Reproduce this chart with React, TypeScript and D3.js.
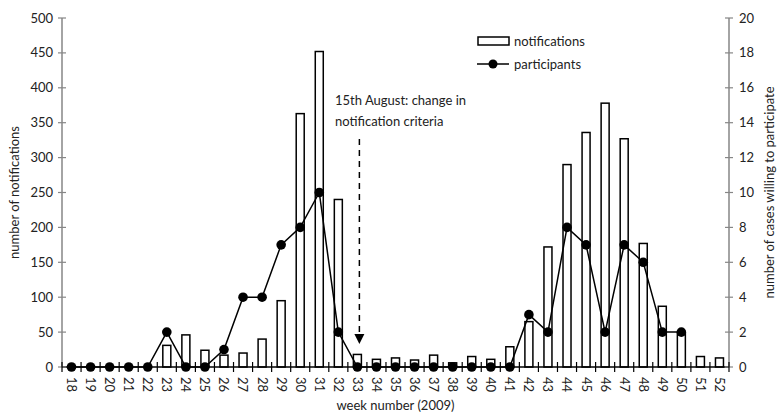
import React from "react";
import * as d3 from "d3";

const weeks = [18,19,20,21,22,23,24,25,26,27,28,29,30,31,32,33,34,35,36,37,38,39,40,41,42,43,44,45,46,47,48,49,50,51,52];
const notifications = [0,0,0,0,0,31,46,24,17,20,40,95,363,452,240,18,11,13,10,17,6,15,11,29,65,172,290,336,378,327,177,87,49,15,13];
const participants: (number | null)[] = [0,0,0,0,0,2,0,0,1,4,4,7,8,10,2,0,0,0,0,0,0,0,0,0,3,2,8,7,2,7,6,2,2,null,null];
const leftTicks = [0,50,100,150,200,250,300,350,400,450,500];
const rightTicks = [0,2,4,6,8,10,12,14,16,18,20];

export default function App() {
  const W = 779, H = 415;
  const x0 = 62, x1 = 729, yTop = 18, yBot = 367;
  const font = "Lato, 'Open Sans', sans-serif";
  const axisColor = "#868686";
  const textColor = "#222";
  const fs = 13;
  const x = d3.scaleBand<number>().domain(weeks).range([x0, x1]).paddingInner(0).paddingOuter(0);
  const yL = d3.scaleLinear().domain([0, 500]).range([yBot, yTop]);
  const yR = d3.scaleLinear().domain([0, 20]).range([yBot, yTop]);
  const bw = 8;
  const cx = (w: number) => (x(w) as number) + x.bandwidth() / 2;
  const pts = weeks.map((w, i) => ({ w, v: participants[i] })).filter(d => d.v !== null) as { w: number; v: number }[];
  const line = d3.line<{ w: number; v: number }>().x(d => cx(d.w)).y(d => yR(d.v));
  const arrowX = cx(33) + 2;
  return (
    <svg width={W} height={H} style={{ position: "absolute", left: 0, top: 0 }} fontFamily={font}>
      <rect width={W} height={H} fill="#fff" />
      {weeks.map((w, i) => notifications[i] > 0 && (
        <rect key={w} x={cx(w) - bw / 2} y={yL(notifications[i])} width={bw} height={yBot - yL(notifications[i])}
          fill="#fff" stroke="#000" strokeWidth={1.5} />
      ))}
      <line x1={x0} x2={x0} y1={yTop} y2={yBot} stroke={axisColor} strokeWidth={1.5} />
      <line x1={x1} x2={x1} y1={yTop} y2={yBot} stroke={axisColor} strokeWidth={1.5} />
      <line x1={x0} x2={x1} y1={yBot} y2={yBot} stroke="#000" strokeWidth={1.5} />
      {leftTicks.map(t => (
        <g key={t}>
          <line x1={x0 - 4} x2={x0 + 4} y1={yL(t)} y2={yL(t)} stroke={axisColor} strokeWidth={1.2} />
          <text x={x0 - 9} y={yL(t)} dy="0.35em" textAnchor="end" fontSize={fs} fill={textColor}>{t}</text>
        </g>
      ))}
      {rightTicks.map(t => (
        <g key={t}>
          <line x1={x1 - 4} x2={x1 + 4} y1={yR(t)} y2={yR(t)} stroke={axisColor} strokeWidth={1.2} />
          <text x={x1 + 10} y={yR(t)} dy="0.35em" textAnchor="start" fontSize={fs} fill={textColor}>{t}</text>
        </g>
      ))}
      {weeks.map(w => (
        <line key={w} x1={x(w) as number} x2={x(w) as number} y1={yBot - 5} y2={yBot + 5} stroke="#000" strokeWidth={1.2} />
      ))}
      <line x1={x1} x2={x1} y1={yBot - 5} y2={yBot + 5} stroke="#000" strokeWidth={1.2} />
      {weeks.map(w => (
        <text key={w} transform={`translate(${cx(w)},${yBot + 10}) rotate(90)`} dy="0.35em" textAnchor="start"
          fontSize={fs} fill={textColor}>{w}</text>
      ))}
      <path d={line(pts) || ""} fill="none" stroke="#000" strokeWidth={1.5} />
      {pts.map(p => <circle key={p.w} cx={cx(p.w)} cy={yR(p.v)} r={4.8} fill="#000" />)}
      <text transform={`translate(19,${(yTop + yBot) / 2}) rotate(-90)`} textAnchor="middle" fontSize={fs} fill={textColor}>number of notifications</text>
      <text transform={`translate(774,${(yTop + yBot) / 2}) rotate(-90)`} textAnchor="middle" fontSize={fs} fill={textColor}>number of cases willing to participate</text>
      <text x={(x0 + x1) / 2} y={410} textAnchor="middle" fontSize={fs} fill={textColor}>week number (2009)</text>
      <rect x={478} y={37} width={31} height={8} fill="#fff" stroke="#000" strokeWidth={1.5} />
      <text x={514} y={41} dy="0.35em" fontSize={fs} fill={textColor}>notifications</text>
      <line x1={477} x2={509} y1={64} y2={64} stroke="#000" strokeWidth={1.5} />
      <circle cx={493} cy={64} r={4.5} fill="#000" />
      <text x={514} y={64} dy="0.35em" fontSize={fs} fill={textColor}>participants</text>
      <text x={335} y={105} fontSize={fs} fill={textColor}>15th August: change in</text>
      <text x={335} y={126} fontSize={fs} fill={textColor}>notification criteria</text>
      <line x1={arrowX} x2={arrowX} y1={139} y2={336} stroke="#000" strokeWidth={1.5} strokeDasharray="6,5" />
      <path d={`M${arrowX - 5},${334} L${arrowX + 5},${334} L${arrowX},${344} Z`} fill="#000" />
    </svg>
  );
}
